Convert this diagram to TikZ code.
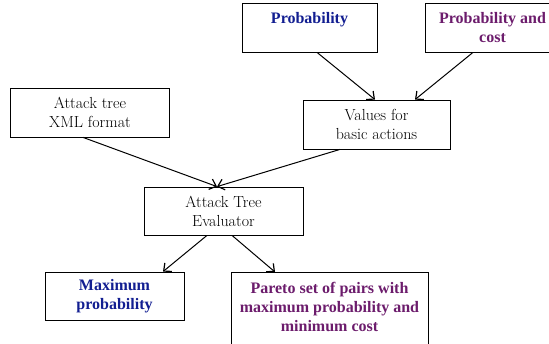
\documentclass[tikz,border=0pt]{standalone}
\usepackage{fontspec}
\newfontfamily\labelbold{Liberation Serif}
\usetikzlibrary{arrows.meta}
\definecolor{probblue}{RGB}{18,30,145}
\definecolor{costpurple}{RGB}{108,28,108}
\tikzset{
  box/.style={draw=black, line width=0.8pt, rectangle, align=center, inner sep=2pt,
    font=\fontsize{16}{19}\selectfont},
  hl/.style={box, font=\labelbold\bfseries\fontsize{16}{19}\selectfont},
  flow/.style={line width=1pt, -{Straight Barb[length=6pt,width=11pt,line width=1.2pt]}}
}
\begin{document}
\begin{tikzpicture}[x=1pt,y=-1pt]
  \useasboundingbox (0,0) rectangle (549,344);
  % input boxes
  \node[hl, text=probblue, minimum width=135pt, minimum height=49pt] (prob) at (309.5,27.5) {Probability\\ \mbox{}};
  \node[hl, text=costpurple, minimum width=135pt, minimum height=49pt] (pcost) at (492.5,27.5) {Probability and\\cost};
  \node[box, minimum width=147pt, minimum height=49pt] (vals) at (376.5,124.5) {Values for\\basic actions};
  \node[box, minimum width=159pt, minimum height=49pt] (xml) at (90,112.5) {Attack tree\\XML format};
  % evaluator
  \node[box, minimum width=159pt, minimum height=48pt] (eval) at (223.5,211) {Attack Tree\\Evaluator};
  % outputs
  \node[hl, text=probblue, minimum width=139pt, minimum height=48pt] (maxp) at (114.5,296) {Maximum\\probability};
  \node[hl, text=costpurple, minimum width=197pt, minimum height=87pt, anchor=north] (pareto) at (329.5,272)
    {Pareto set of pairs with\\maximum probability and\\minimum cost\\ \mbox{}};
  % connectors
  \draw[flow] ([xshift=7.5pt]prob.south) -- ([xshift=-1.5pt]vals.north);
  \draw[flow] ([xshift=-19.5pt]pcost.south) -- ([xshift=38.5pt]vals.north);
  \draw[flow] ([xshift=-7pt]xml.south) -- ([xshift=-6.5pt]eval.north);
  \draw[flow] ([xshift=-36.5pt]vals.south) -- ([xshift=-6.5pt]eval.north);
  \draw[flow] ([xshift=-16.5pt]eval.south) -- ([xshift=48.5pt]maxp.north);
  \draw[flow] ([xshift=8.5pt]eval.south) -- ([xshift=-54.5pt]pareto.north);
\end{tikzpicture}
\end{document}
